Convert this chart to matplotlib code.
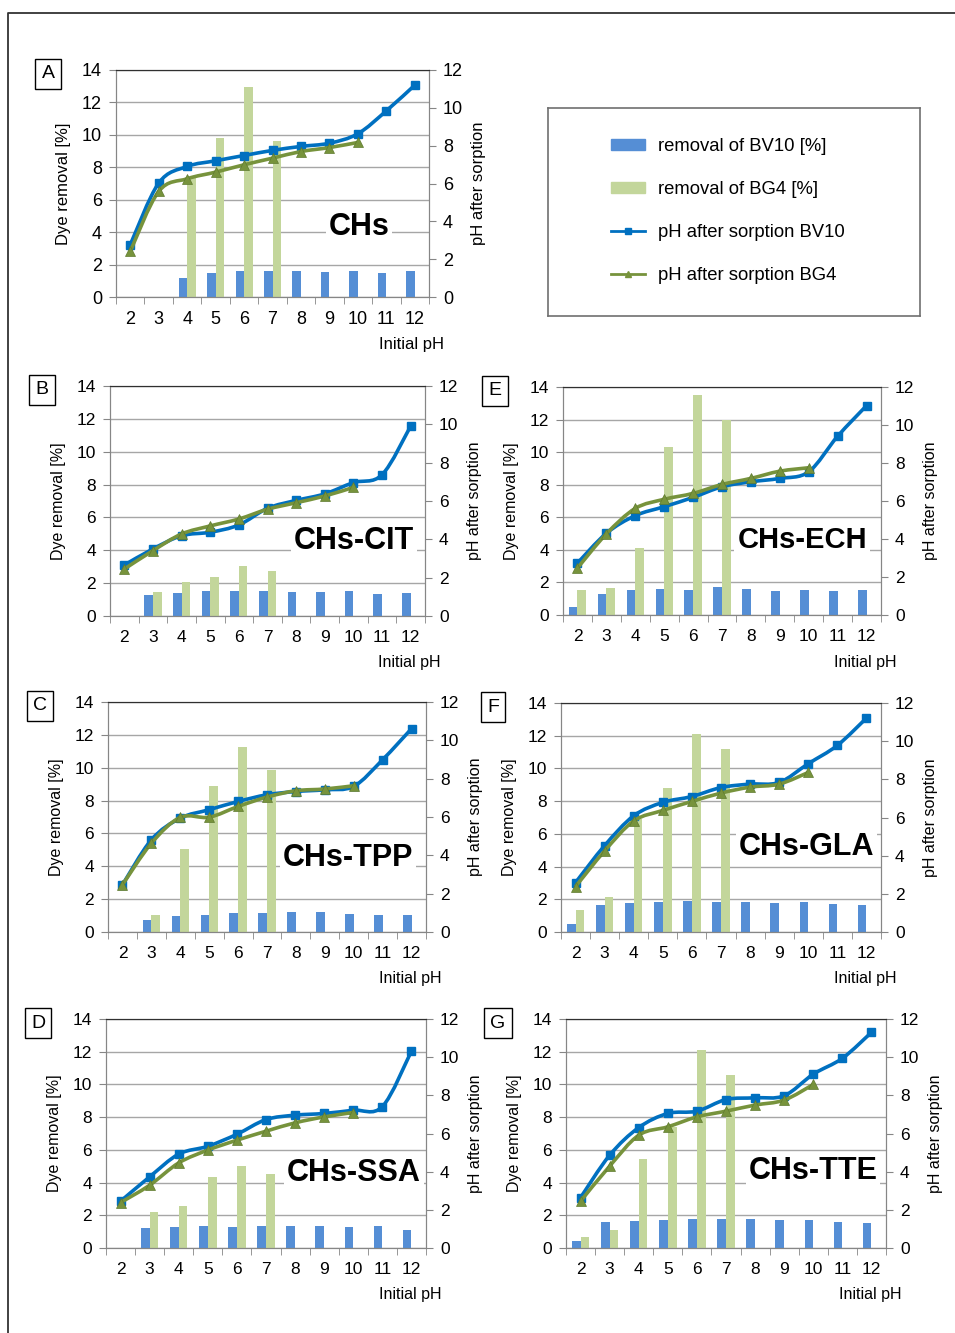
import numpy as np
import matplotlib
matplotlib.use("Agg")
import matplotlib.pyplot as plt
from matplotlib.path import Path
from matplotlib.patches import PathPatch, Patch
from matplotlib.lines import Line2D

plt.rcParams['font.family'] = ['Liberation Sans', 'DejaVu Sans']

nan = np.nan
init_ph = [2, 3, 4, 5, 6, 7, 8, 9, 10, 11, 12]

# panel A - CHs
a_bv_rem = [nan, nan, 1.19, 1.48, 1.58, 1.58, 1.58, 1.52, 1.58, 1.48, 1.58]
a_bg_rem = [nan, nan, 7.33, 9.8, 12.96, 9.65, nan, nan, nan, nan, nan]
a_bv_ph = [2.76, 6.02, 6.9, 7.2, 7.48, 7.75, 7.96, 8.13, 8.63, 9.84, 11.2]
a_bg_ph = [2.41, 5.58, 6.25, 6.6, 6.99, 7.34, 7.69, 7.9, 8.17]

# panel B - CHs-CIT
b_bv_rem = [nan, 1.28, 1.38, 1.5, 1.5, 1.5, 1.44, 1.44, 1.5, 1.34, 1.38]
b_bg_rem = [nan, 1.46, 2.07, 2.37, 3.04, 2.74, nan, nan, nan, nan, nan]
b_bv_ph = [2.66, 3.5, 4.19, 4.37, 4.75, 5.62, 6.03, 6.37, 6.96, 7.37, 9.91]
b_bg_ph = [2.45, 3.41, 4.28, 4.7, 5.06, 5.57, 5.91, 6.26, 6.71]

# panel C - CHs-TPP
c_bv_rem = [nan, 0.71, 0.98, 1.04, 1.14, 1.14, 1.2, 1.2, 1.08, 1.04, 1.04]
c_bg_rem = [nan, 1.06, 5.06, 8.9, 11.28, 9.88, nan, nan, nan, nan, nan]
c_bv_ph = [2.46, 4.81, 5.94, 6.38, 6.81, 7.16, 7.33, 7.42, 7.6, 8.99, 10.61]
c_bg_ph = [2.46, 4.63, 5.98, 5.99, 6.55, 7.04, 7.37, 7.46, 7.63]

# panel D - CHs-SSA
d_bv_rem = [nan, 1.2, 1.27, 1.33, 1.27, 1.33, 1.37, 1.33, 1.27, 1.33, 1.08]
d_bg_rem = [nan, 2.18, 2.55, 4.35, 5.0, 4.55, nan, nan, nan, nan, nan]
d_bv_ph = [2.45, 3.73, 4.92, 5.33, 5.96, 6.73, 6.96, 7.05, 7.22, 7.41, 10.32]
d_bg_ph = [2.38, 3.29, 4.46, 5.13, 5.65, 6.12, 6.56, 6.87, 7.1]

# panel E - CHs-ECH
e_bv_rem = [0.49, 1.31, 1.55, 1.61, 1.55, 1.71, 1.61, 1.49, 1.55, 1.45, 1.55]
e_bg_rem = [1.51, 1.67, 4.12, 10.31, 13.49, 12.0, nan, nan, nan, nan, nan]
e_bv_ph = [2.73, 4.3, 5.23, 5.7, 6.19, 6.75, 7.01, 7.19, 7.54, 9.41, 11.02]
e_bg_ph = [2.47, 4.27, 5.61, 6.09, 6.4, 6.87, 7.19, 7.57, 7.75]

# panel F - CHs-GLA
f_bv_rem = [0.47, 1.67, 1.8, 1.84, 1.92, 1.84, 1.84, 1.8, 1.84, 1.73, 1.67]
f_bg_rem = [1.35, 2.14, 6.9, 8.82, 12.12, 11.18, nan, nan, nan, nan, nan]
f_bv_ph = [2.59, 4.53, 6.09, 6.79, 7.1, 7.57, 7.75, 7.84, 8.82, 9.78, 11.21]
f_bg_ph = [2.38, 4.25, 5.82, 6.37, 6.84, 7.28, 7.59, 7.75, 8.36]

# panel G - CHs-TTE
g_bv_rem = [0.43, 1.57, 1.63, 1.69, 1.76, 1.76, 1.76, 1.69, 1.69, 1.57, 1.53]
g_bg_rem = [0.65, 1.08, 5.47, 7.4, 12.1, 10.6, nan, nan, nan, nan, nan]
g_bv_ph = [2.64, 4.86, 6.31, 7.05, 7.17, 7.78, 7.87, 7.98, 9.11, 9.94, 11.3]
g_bg_ph = [2.45, 4.29, 5.91, 6.35, 6.87, 7.17, 7.49, 7.75, 8.57]

BLUE_BAR = '#558ED5'
GREEN_BAR = '#C3D69B'
BLUE_LINE = '#0070C0'
GREEN_LINE = '#77933C'
GRAY = '#868686'

W, H = 955, 1333
fig = plt.figure(figsize=(W / 100, H / 100), dpi=100)


def smooth_path(x, y):
    # excel-like smoothed line: cubic bezier through the points
    pts = np.column_stack([x, y]).astype(float)
    n = len(pts)
    verts = [pts[0]]
    codes = [Path.MOVETO]
    for i in range(n - 1):
        p0 = pts[i - 1] if i > 0 else pts[i]
        p1 = pts[i]
        p2 = pts[i + 1]
        p3 = pts[i + 2] if i + 2 < n else pts[i + 1]
        verts += [p1 + (p2 - p0) / 6, p2 - (p3 - p1) / 6, p2]
        codes += [Path.CURVE4] * 3
    return Path(verts, codes)


def panel(box, letter, name, name_pos, bv_rem, bg_rem, bv_ph, bg_ph, fs=12.5, name_fs=22):
    l, t, r, b = box
    ax = fig.add_axes([l / W, 1 - b / H, (r - l) / W, (b - t) / H])
    x = np.arange(len(init_ph))
    bv_rem = np.array(bv_rem)
    bg_rem = np.array(bg_rem)
    m = ~np.isnan(bv_rem)
    ax.bar(x[m] - 0.15, bv_rem[m], width=0.3, color=BLUE_BAR, zorder=2)
    m = ~np.isnan(bg_rem)
    ax.bar(x[m] + 0.15, bg_rem[m], width=0.3, color=GREEN_BAR, zorder=2)
    ax.set_xlim(-0.5, len(init_ph) - 0.5)
    ax.set_ylim(0, 14)
    ax.set_yticks(range(0, 15, 2))
    ax.grid(axis='y', color='#A6A6A6', lw=1.0)
    ax.set_axisbelow(True)
    ax.set_xticks(x)
    ax.set_xticklabels([str(v) for v in init_ph])
    ax.set_xticks(np.arange(-0.5, len(init_ph)), minor=True)
    ax.tick_params(axis='x', which='major', length=0, pad=10, labelsize=fs)
    ax.tick_params(axis='x', which='minor', length=5, color=GRAY)
    ax.tick_params(axis='y', length=5, color=GRAY, labelsize=fs, pad=5)
    ax.set_ylabel('Dye removal [%]', fontsize=fs - 1, labelpad=8)

    ax2 = ax.twinx()
    ax2.set_ylim(0, 12)
    ax2.set_yticks(range(0, 13, 2))
    ax2.tick_params(axis='y', length=5, color=GRAY, labelsize=fs, pad=5)
    ax2.set_ylabel('pH after sorption', fontsize=fs - 1, labelpad=6)
    for a in (ax, ax2):
        for s in ('left', 'right', 'bottom'):
            a.spines[s].set_color(GRAY)
        a.spines['top'].set_color('#303030')

    xb = x[:len(bg_ph)]
    ax2.add_patch(PathPatch(smooth_path(x, bv_ph), fill=False, edgecolor=BLUE_LINE,
                            lw=2.6, zorder=3))
    ax2.plot(x, bv_ph, 's', color=BLUE_LINE, ms=6, zorder=4)
    ax2.add_patch(PathPatch(smooth_path(xb, bg_ph), fill=False, edgecolor=GREEN_LINE,
                            lw=2.6, zorder=5))
    ax2.plot(xb, bg_ph, '^', color=GREEN_LINE, mec='#5E7A2E', mew=0.5, ms=7, zorder=6)

    ax2.text(name_pos[0], name_pos[1], name, transform=ax2.transAxes, ha='center',
             va='center', fontsize=name_fs, fontweight='bold', zorder=10,
             bbox=dict(facecolor='white', edgecolor='none', pad=2))
    fig.text((r + 15) / W, 1 - (b + 47) / H, 'Initial pH', ha='right', va='center',
             fontsize=fs - 1)
    # letter box
    fig.text((l - 68) / W, 1 - (t + 4) / H, letter, ha='center', va='center', fontsize=14,
             bbox=dict(facecolor='white', edgecolor='black', boxstyle='square,pad=0.32',
                       lw=1.0))
    return ax, ax2


panel((116, 70, 429, 297), 'A', 'CHs', (0.776, 0.308),
      a_bv_rem, a_bg_rem, a_bv_ph, a_bg_ph, fs=13)
panel((110, 386, 425, 616), 'B', 'CHs-CIT', (0.775, 0.326),
      b_bv_rem, b_bg_rem, b_bv_ph, b_bg_ph)
panel((563, 387, 881, 615), 'E', 'CHs-ECH', (0.752, 0.329),
      e_bv_rem, e_bg_rem, e_bv_ph, e_bg_ph, name_fs=21)
panel((108, 702, 426, 932), 'C', 'CHs-TPP', (0.755, 0.322),
      c_bv_rem, c_bg_rem, c_bv_ph, c_bg_ph)
panel((561, 703, 881, 932), 'F', 'CHs-GLA', (0.766, 0.371),
      f_bv_rem, f_bg_rem, f_bv_ph, f_bg_ph)
panel((106, 1019, 426, 1248), 'D', 'CHs-SSA', (0.775, 0.328),
      d_bv_rem, d_bg_rem, d_bv_ph, d_bg_ph)
panel((566, 1019, 886, 1248), 'G', 'CHs-TTE', (0.772, 0.336),
      g_bv_rem, g_bg_rem, g_bv_ph, g_bg_ph)

# legend box
lax = fig.add_axes([548 / W, 1 - 316 / H, (920 - 548) / W, (316 - 108) / H])
lax.set_xticks([])
lax.set_yticks([])
for s in lax.spines.values():
    s.set_color('#707070')
    s.set_linewidth(1.2)
handles = [
    Patch(color=BLUE_BAR, label='removal of BV10 [%]'),
    Patch(color=GREEN_BAR, label='removal of BG4 [%]'),
    Line2D([], [], color=BLUE_LINE, lw=2, marker='s', ms=4, label='pH after sorption BV10'),
    Line2D([], [], color=GREEN_LINE, lw=2, marker='^', ms=4, label='pH after sorption BG4'),
]
lax.legend(handles=handles, loc='upper left', bbox_to_anchor=((611 - 548) / 372, 1 - 30 / 208),
           frameon=False, fontsize=13.3, handlelength=1.85, handleheight=0.5,
           handletextpad=0.7, labelspacing=1.4, borderpad=0, borderaxespad=0)

# outer frame
fig.add_artist(Line2D([8 / W, 8 / W, 1], [0, 1 - 13 / H, 1 - 13 / H],
                      transform=fig.transFigure, color='#333333', lw=1.3))

fig.savefig('out.png', dpi=100)
